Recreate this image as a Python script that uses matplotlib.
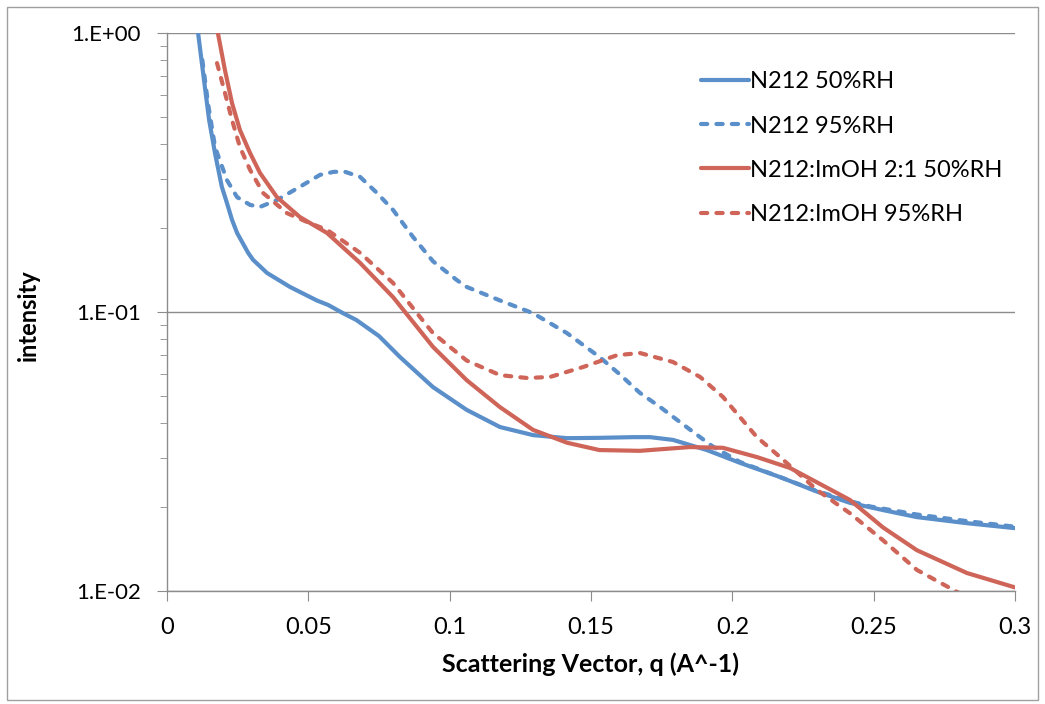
import matplotlib
matplotlib.use("Agg")
import matplotlib.pyplot as plt
from matplotlib.patches import Rectangle
from matplotlib.ticker import FixedLocator, FixedFormatter, LogLocator, NullFormatter

# ---- data ----
q_n212_50 = [0.0110, 0.0134, 0.0149, 0.0170, 0.0194, 0.0212, 0.0230, 0.0248, 0.0287, 0.0304,
             0.0354, 0.0435, 0.0530, 0.0570, 0.0623, 0.0670, 0.0750, 0.0824, 0.0941, 0.1060,
             0.1178, 0.1295, 0.1415, 0.1530, 0.1650, 0.1709, 0.1790, 0.1910, 0.2027, 0.2169,
             0.2300, 0.2416, 0.2533, 0.2653, 0.2830, 0.3000]
i_n212_50 = [1.000, 0.640, 0.488, 0.370, 0.281, 0.246, 0.214, 0.192, 0.163, 0.154,
             0.138, 0.123, 0.110, 0.106, 0.099, 0.0936, 0.082, 0.069, 0.0538, 0.0446,
             0.0387, 0.0362, 0.0353, 0.0354, 0.0356, 0.0356, 0.0348, 0.0320, 0.0288, 0.0256,
             0.0227, 0.0207, 0.0195, 0.0184, 0.0175, 0.0168]

q_n212_95 = [0.0125, 0.0145, 0.0170, 0.0212, 0.0248, 0.0294, 0.0329, 0.0389, 0.0470, 0.0541,
             0.0590, 0.0630, 0.0683, 0.0743, 0.0800, 0.0870, 0.0941, 0.1026, 0.1060, 0.1178,
             0.1295, 0.1415, 0.1530, 0.1600, 0.1673, 0.1744, 0.1815, 0.1886, 0.1930, 0.2027,
             0.2169, 0.2300, 0.2416, 0.2487, 0.2653, 0.2830, 0.3000]
i_n212_95 = [0.800, 0.560, 0.390, 0.297, 0.258, 0.242, 0.238, 0.252, 0.281, 0.310,
             0.318, 0.318, 0.305, 0.267, 0.232, 0.186, 0.152, 0.130, 0.123, 0.110,
             0.099, 0.084, 0.069, 0.060, 0.0513, 0.0457, 0.0403, 0.0356, 0.0330, 0.0290,
             0.0256, 0.0228, 0.0210, 0.0201, 0.0188, 0.0178, 0.0170]

q_imoh_50 = [0.0180, 0.0205, 0.0230, 0.0258, 0.0294, 0.0329, 0.0389, 0.0470, 0.0566, 0.0683,
             0.0800, 0.0849, 0.0941, 0.1060, 0.1178, 0.1295, 0.1415, 0.1530, 0.1673, 0.1850,
             0.1967, 0.2087, 0.2204, 0.2300, 0.2416, 0.2533, 0.2653, 0.2830, 0.3000]
i_imoh_50 = [1.000, 0.736, 0.561, 0.449, 0.371, 0.315, 0.258, 0.219, 0.192, 0.150,
             0.113, 0.098, 0.075, 0.057, 0.0456, 0.0378, 0.0340, 0.0320, 0.0318, 0.0328,
             0.0326, 0.0302, 0.0276, 0.0245, 0.0212, 0.0169, 0.0140, 0.0116, 0.0103]

q_imoh_95 = [0.0177, 0.0205, 0.0230, 0.0258, 0.0294, 0.0340, 0.0425, 0.0506, 0.0566, 0.0683,
             0.0800, 0.0895, 0.0941, 0.1060, 0.1178, 0.1274, 0.1355, 0.1472, 0.1592, 0.1673,
             0.1790, 0.1886, 0.1967, 0.2027, 0.2087, 0.2169, 0.2300, 0.2416, 0.2533, 0.2653,
             0.2805]
i_imoh_95 = [0.780, 0.610, 0.488, 0.390, 0.323, 0.267, 0.226, 0.208, 0.197, 0.163,
             0.127, 0.096, 0.084, 0.067, 0.0594, 0.058, 0.0585, 0.0635, 0.070, 0.0713,
             0.0662, 0.0585, 0.0496, 0.0420, 0.0356, 0.0302, 0.0230, 0.0190, 0.0152, 0.0119,
             0.0098]

labels = ["N212 50%RH", "N212 95%RH", "N212:ImOH 2:1 50%RH", "N212:ImOH 95%RH"]
x_ticks = [0, 0.05, 0.1, 0.15, 0.2, 0.25, 0.3]
x_ticklabels = ["0", "0.05", "0.1", "0.15", "0.2", "0.25", "0.3"]
y_ticks = [0.01, 0.1, 1.0]
y_ticklabels = ["1.E-02", "1.E-01", "1.E+00"]

# ---- style ----
blue = "#5A8FCA"
red = "#CF6559"
plt.rcParams['font.family'] = ['Lato', 'DejaVu Sans']

fig = plt.figure(figsize=(10.45, 7.04), dpi=100)
fig.patches.append(Rectangle((7/1045, 4/704), 1031/1045, 693/704, transform=fig.transFigure,
                             fill=False, edgecolor="#A0A0A0", linewidth=1.0))
ax = fig.add_axes([167/1045, 1 - 591/704, 848/1045, 558/704])

lw = 3.0
dash = (0, (1.5, 2.2))
ax.plot(q_n212_50, i_n212_50, color=blue, lw=lw, label=labels[0],
        solid_capstyle='round', solid_joinstyle='round')
ax.plot(q_n212_95, i_n212_95, color=blue, lw=lw, ls=dash, label=labels[1], dash_capstyle='round')
ax.plot(q_imoh_50, i_imoh_50, color=red, lw=lw, label=labels[2],
        solid_capstyle='round', solid_joinstyle='round')
ax.plot(q_imoh_95, i_imoh_95, color=red, lw=lw, ls=dash, label=labels[3], dash_capstyle='round')

ax.set_yscale('log')
ax.set_xlim(0, 0.3)
ax.set_ylim(0.01, 1.0)

ax.yaxis.set_major_locator(FixedLocator(y_ticks))
ax.yaxis.set_major_formatter(FixedFormatter(y_ticklabels))
ax.yaxis.set_minor_locator(LogLocator(base=10, subs=range(2, 10)))
ax.yaxis.set_minor_formatter(NullFormatter())
ax.xaxis.set_major_locator(FixedLocator(x_ticks))
ax.xaxis.set_major_formatter(FixedFormatter(x_ticklabels))

ax.grid(axis='y', which='major', color='#8C8C8C', lw=1.0)
for s in ['top', 'right']:
    ax.spines[s].set_visible(False)
for s in ['left', 'bottom']:
    ax.spines[s].set_color('#8C8C8C')
    ax.spines[s].set_linewidth(1.0)
ax.tick_params(axis='x', which='major', direction='out', length=7, color='#8C8C8C',
               labelsize=17, pad=12)
ax.tick_params(axis='y', which='major', direction='out', length=7, color='#8C8C8C',
               labelsize=16, pad=12)
ax.tick_params(axis='y', which='minor', direction='out', length=5, color='#8C8C8C')
ax.set_axisbelow(True)

ax.set_xlabel("Scattering Vector, q (A^-1)", fontsize=18, fontweight='bold', labelpad=10)
ax.set_ylabel("intensity", fontsize=17, fontweight='bold')
ax.yaxis.set_label_coords(-0.150, 0.495)

leg = ax.legend(loc='upper left', bbox_to_anchor=(692/1045, 1 - 62/704),
                bbox_transform=fig.transFigure, frameon=False, fontsize=17,
                handlelength=2.0, handletextpad=0.05, labelspacing=0.98, borderaxespad=0)

fig.savefig("out.png", dpi=100)
